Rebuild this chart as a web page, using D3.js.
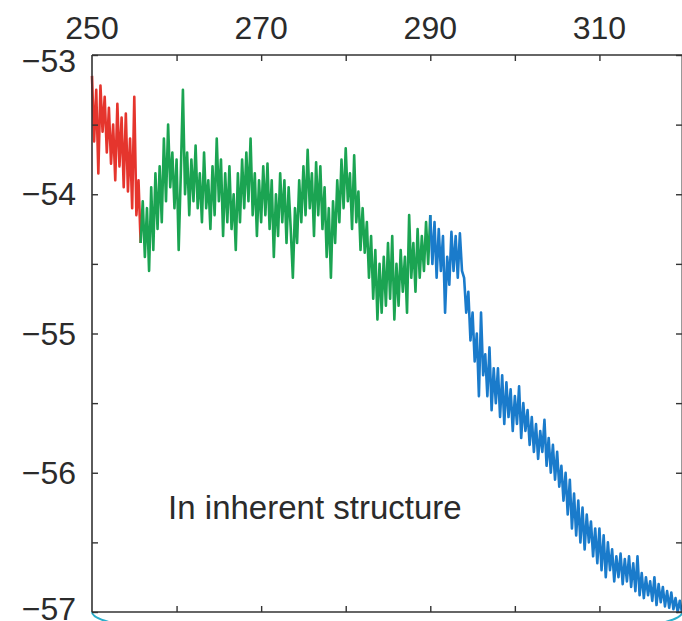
<!DOCTYPE html>
<html>
<head>
<meta charset="utf-8">
<script src="https://cdn.jsdelivr.net/npm/d3@7"></script>
<style>
  body { margin: 0; background: #fff; }
  svg { display: block; font-family: "Liberation Sans", Arial, sans-serif; }
</style>
</head>
<body>
<div id="chart"></div>
<script>
// sampled every 0.25 time units; each segment starts where the previous ends
var step = 0.25;

var redStart = 250;
var redValues = [
  -53.15, -53.62, -53.25, -53.85, -53.22, -53.55, -53.3, -53.7,
  -53.38, -53.78, -53.5, -53.9, -53.35, -53.8, -53.45, -53.95,
  -53.42, -53.98, -53.6, -54.1, -53.3, -54.15, -53.9, -54.35
];

var greenStart = 255.75;
var greenValues = [
  -54.35,
  -54.05, -54.45, -54.1, -54.55,  -53.95, -54.4, -53.85, -54.25,
  -53.8, -54.2, -53.6, -54.05,    -53.5, -53.95, -53.7, -54.1,
  -53.75, -54.4, -53.85, -53.25,  -54.0, -53.7, -54.15, -53.75,
  -54.05, -53.65, -54.1, -53.85,  -54.2, -53.7, -54.1, -53.9,
  -54.25, -53.8, -54.15, -53.6,   -54.05, -53.75, -54.3, -53.85,
  -54.2, -53.8, -54.25, -54.0,    -54.4, -53.85, -54.2, -53.75,
  -54.1, -53.7, -54.05, -53.6,    -54.15, -53.85, -54.3, -53.9,
  -54.2, -53.8, -54.15, -53.78,   -54.25, -53.9, -54.45, -54.0,
  -54.3, -53.85, -54.2, -53.9,    -54.35, -53.95, -54.25, -54.6,
  -54.1, -54.35, -53.9, -54.2,    -53.8, -54.15, -53.68, -54.1,
  -53.85, -54.3, -53.77, -54.15,  -53.8, -54.25, -53.95, -54.45,
  -54.1, -54.6, -54.05, -54.35,   -53.9, -54.2, -53.75, -54.1,
  -53.67, -54.05, -53.85, -54.25, -53.72, -54.2, -53.98, -54.4,
  -54.1, -54.42, -54.2, -54.6,    -54.3, -54.75, -54.4, -54.9,
  -54.5, -54.85, -54.45, -54.8,   -54.35, -54.75, -54.3, -54.9,
  -54.5, -54.8, -54.4, -54.7,     -54.45, -54.85, -54.15, -54.6,
  -54.35, -54.7, -54.25, -54.6,   -54.3, -54.55, -54.2, -54.5,
  -54.15
];

var blueStart = 290;
var blueValues = [
  -54.15, -54.5, -54.2, -54.6,    -54.25, -54.55, -54.3, -54.85,
  -54.45, -54.65, -54.27, -54.55, -54.3, -54.6, -54.28, -54.55,
  -54.6, -54.85, -54.7, -55.05,   -54.85, -55.2, -55.0, -55.45,
  -54.85, -55.3, -55.15, -55.45,  -55.1, -55.55, -55.25, -55.5,
  -55.25, -55.6, -55.3, -55.65,   -55.35, -55.6, -55.4, -55.7,
  -55.45, -55.65, -55.38, -55.75, -55.5, -55.7, -55.55, -55.8,
  -55.6, -55.85, -55.65, -55.9,   -55.7, -55.85, -55.62, -55.95,
  -55.75, -56.0, -55.8, -56.05,   -55.85, -56.1, -55.95, -56.2,
  -56.0, -56.3, -56.05, -56.4,    -56.15, -56.45, -56.2, -56.5,
  -56.25, -56.55, -56.3, -56.5,   -56.35, -56.6, -56.4, -56.65,
  -56.4, -56.7, -56.45, -56.75,   -56.5, -56.7, -56.55, -56.78,
  -56.6, -56.75, -56.58, -56.8,   -56.62, -56.78, -56.6, -56.82,
  -56.65, -56.85, -56.6, -56.88,  -56.72, -56.9, -56.75, -56.88,
  -56.78, -56.92, -56.75, -56.95, -56.8, -56.93, -56.82, -56.96,
  -56.85, -56.97, -56.86, -56.98, -56.9, -57.0, -56.92, -57.0
];

var xTicks = [250, 260, 270, 280, 290, 300, 310, 320];
var xTickLabels = [250, 270, 290, 310];
var yTicks = [-53, -53.5, -54, -54.5, -55, -55.5, -56, -56.5, -57];
var yTickLabels = [-53, -54, -55, -56, -57];
var annotation = "In inherent structure";

var width = 682, height = 621;
var margins = {top: 55, right: -2, bottom: 9, left: 92};

var svg = d3.select('#chart')
  .append('svg')
  .attr('width', width)
  .attr('height', height);

var x = d3.scaleLinear()
  .domain([250, 320])
  .range([margins.left, width - margins.right]);

var y = d3.scaleLinear()
  .domain([-57, -53])
  .range([height - margins.bottom, margins.top]);

var axisColor = "#333";
var textColor = "#2b2b2b";
var tickLen = 6;
var fmt = function(d) { return String(d).replace("-", "\u2212"); };

/* a piece of the next panel's ellipse peeks out under the bottom axis */
svg.append('path')
  .attr('d', 'M' + x(250) + ',' + y(-57) +
        ' A' + (x(319.8) - x(250)) / 2 + ',30 0 0 0 ' + x(319.8) + ',' + y(-57))
  .attr('fill', 'none')
  .attr('stroke', '#2aaecb')
  .attr('stroke-width', 2);

/* the lines */
var lineFunc = function(start) {
  return d3.line()
    .x(function(d, i) { return x(start + i * step); })
    .y(function(d) { return y(d); });
};

var segments = [
  {start: redStart, values: redValues, color: "#e5352d"},
  {start: greenStart, values: greenValues, color: "#1ba452"},
  {start: blueStart, values: blueValues, color: "#1a7bcb"}
];

segments.forEach(function(s) {
  svg.append('path')
    .attr('d', lineFunc(s.start)(s.values))
    .attr('fill', 'none')
    .attr('stroke', s.color)
    .attr('stroke-width', 2.6)
    .attr('stroke-linejoin', 'round');
});

/* box axes with inward ticks */
var axTop = svg.append('g')
  .attr('transform', 'translate(0,' + y(-53) + ')')
  .call(d3.axisBottom(x).tickValues(xTicks).tickSize(tickLen).tickFormat(''));
var axBottom = svg.append('g')
  .attr('transform', 'translate(0,' + y(-57) + ')')
  .call(d3.axisTop(x).tickValues(xTicks).tickSize(tickLen).tickFormat(''));
var axLeft = svg.append('g')
  .attr('transform', 'translate(' + x(250) + ',0)')
  .call(d3.axisRight(y).tickValues(yTicks).tickSize(tickLen).tickFormat(''));
var axRight = svg.append('g')
  .attr('transform', 'translate(' + (x(320) - 2) + ',0)')
  .call(d3.axisLeft(y).tickValues(yTicks).tickSize(tickLen).tickFormat(''));

[axTop, axBottom, axLeft, axRight].forEach(function(g) {
  g.selectAll('path.domain').attr('stroke', axisColor).attr('stroke-width', 1.6);
  g.selectAll('.tick line').attr('stroke', axisColor).attr('stroke-width', 1.4);
});
// plain domain lines without end caps
axTop.select('path.domain').attr('d', 'M' + x(250) + ',0H' + width);
axBottom.select('path.domain').attr('d', 'M' + x(250) + ',0H' + width);
axLeft.select('path.domain').attr('d', 'M0,' + y(-53) + 'V' + y(-57));
axRight.select('path.domain').attr('d', 'M0,' + y(-53) + 'V' + y(-57)).attr('stroke-width', 1);
axTop.selectAll('.tick').filter(function(d) { return d === 250; }).remove();
axBottom.selectAll('.tick').filter(function(d) { return d === 250; }).remove();

/* tick labels */
svg.append('g').selectAll('text')
  .data(xTickLabels)
  .join('text')
  .attr('x', function(d) { return x(d); })
  .attr('y', y(-53) - 16)
  .attr('text-anchor', 'middle')
  .attr('font-size', 32)
  .attr('fill', textColor)
  .text(fmt);

// the end labels are nudged inward, as in the original figure
svg.append('g').selectAll('text')
  .data(yTickLabels)
  .join('text')
  .attr('x', x(250) - 16)
  .attr('y', function(d) { return y(d) + (d === -53 ? 6 : d === -57 ? -3 : 0); })
  .attr('dy', '0.35em')
  .attr('text-anchor', 'end')
  .attr('font-size', 32)
  .attr('fill', textColor)
  .text(fmt);

svg.append('text')
  .attr('x', x(259))
  .attr('y', y(-56.33))
  .attr('font-size', 33)
  .attr('fill', textColor)
  .text(annotation);
</script>
</body>
</html>
